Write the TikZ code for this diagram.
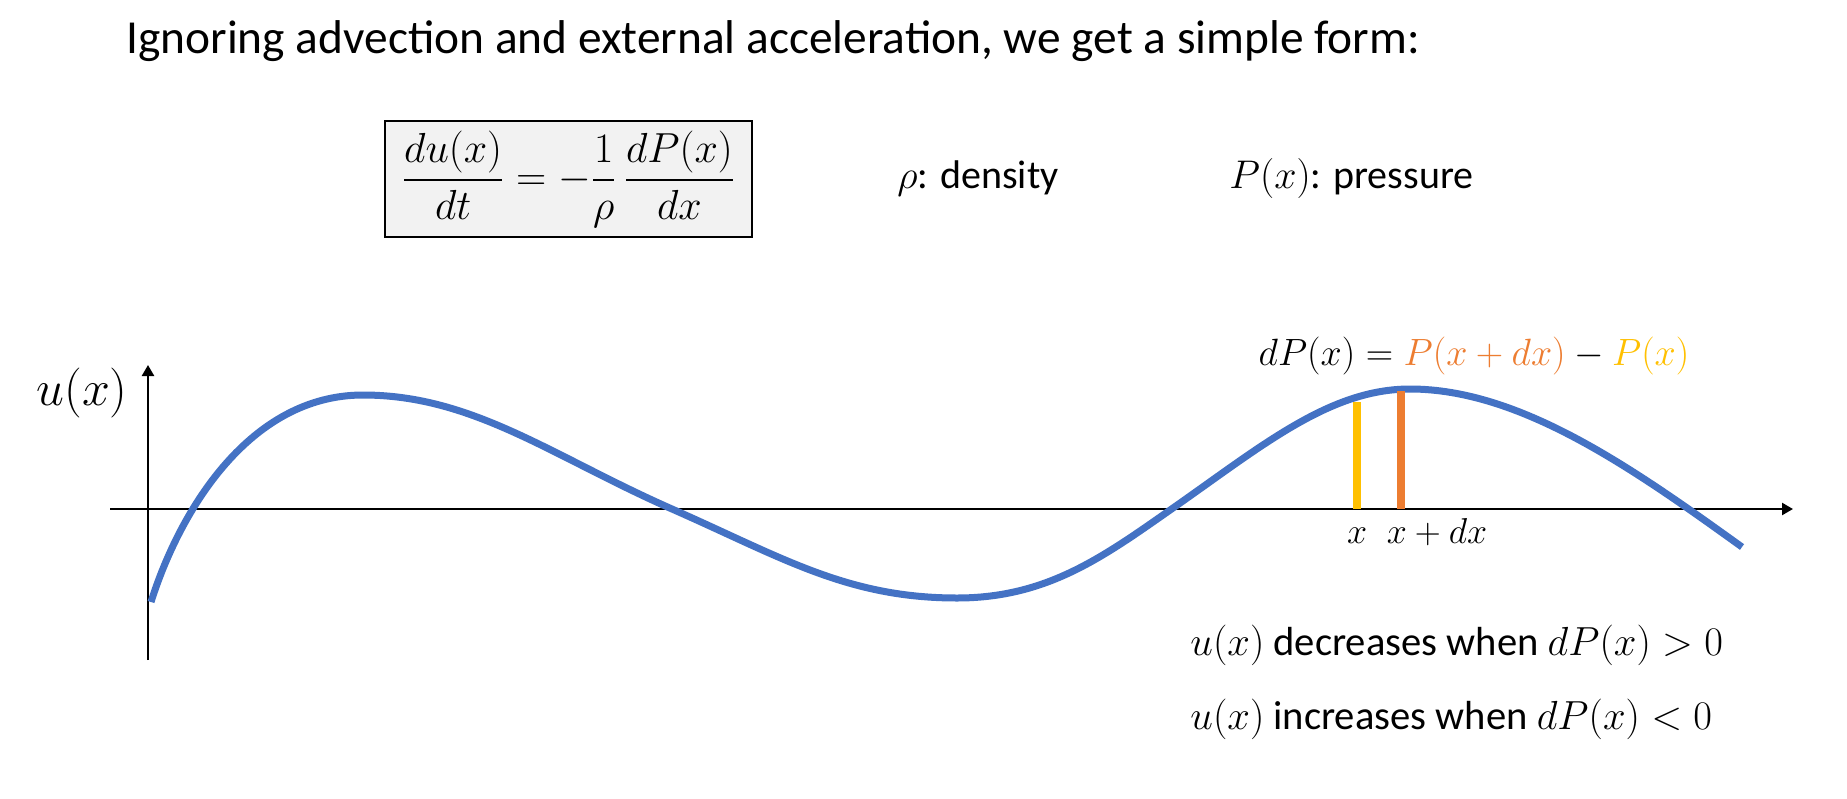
\RequirePackage{fix-cm}
\documentclass[tikz,border=0pt]{standalone}
\usepackage{amsmath}
\usepackage[no-math]{fontspec}
\setmainfont{Carlito}
\usepackage{xcolor}
\usepackage{tikz}
\usetikzlibrary{arrows.meta, positioning}
\definecolor{curveblue}{HTML}{4472C4}
\definecolor{dpyellow}{HTML}{FFC000}
\definecolor{dporange}{HTML}{ED7D31}
\definecolor{boxgray}{HTML}{F2F2F2}
\tikzstyle{txt} = [inner sep=0pt, font=\fontsize{20}{24}\selectfont]
\tikzstyle{eqbox} = [rectangle, draw=black, line width=0.7pt, fill=boxgray, minimum width=183.5pt, minimum height=58pt, inner sep=0pt, font=\fontsize{21}{25}\selectfont]
\tikzstyle{axis} = [draw, line width=1.2pt, -{Triangle[width=6pt,length=5.5pt]}]
\tikzstyle{wave} = [draw=curveblue, line width=3.5pt]
\tikzstyle{bar} = [draw, line width=3.7pt]

\begin{document}
\begin{tikzpicture}[x=0.5pt, y=-0.5pt]
    \useasboundingbox[fill=white] (0,0) rectangle (1847,798);
    % Nodes
    \node [txt, anchor=base west, font=\fontsize{23.7}{28}\selectfont] (title) at (126,53) {Ignoring advection and external acceleration, we get a simple form:};
    \node [eqbox] (eq) at (568.5,179) {$\dfrac{du(x)}{dt}=-\dfrac{1}{\rho}\,\dfrac{dP(x)}{dx}$};
    \node [txt, anchor=base west] (rho) at (897,188) {$\rho$: density};
    \node [txt, anchor=base west] (press) at (1229,188) {$P(x)$: pressure};
    \node [txt, anchor=base, font=\fontsize{25}{29}\selectfont] (ulab) at (82,405) {$u(x)$};
    \node [txt, anchor=base, font=\fontsize{19}{23}\selectfont] (dp) at (1474,365) {$dP(x)=\textcolor{dporange}{P(x+dx)}-\textcolor{dpyellow}{P(x)}$};
    \node [txt, anchor=base, font=\fontsize{18}{22}\selectfont] (xa) at (1357,543) {$x$};
    \node [txt, anchor=base, font=\fontsize{18}{22}\selectfont] (xb) at (1437,543) {$x+dx$};
    \node [txt, anchor=base west, font=\fontsize{20.3}{24}\selectfont] (dec) at (1190,655) {$u(x)$ decreases when $dP(x)>0$};
    \node [txt, anchor=base west, font=\fontsize{20.3}{24}\selectfont] (inc) at (1190,729) {$u(x)$ increases when $dP(x)<0$};

    % Axes
    \coordinate (xleft) at (110,509);
    \coordinate (xright) at (1793,509);
    \coordinate (ybottom) at (148,660);
    \coordinate (ytop) at (148,365);
    \path [axis] (xleft) -- (xright);
    \path [axis] (ybottom) -- (ytop);

    % Curve
    \coordinate (wstart) at (151,602);
    \coordinate (peakA) at (363,395);
    \coordinate (zeroB) at (672,509);
    \coordinate (trough) at (957,598);
    \coordinate (zeroC) at (1173,508);
    \coordinate (peakB) at (1410,389);
    \coordinate (wend) at (1742,547);
    \path [wave] (wstart) .. controls (180,510) and (250,395) .. (peakA)
        .. controls (473,395) and (552,456.2) .. (zeroB)
        .. controls (782,557.4) and (847,598) .. (trough)
        .. controls (1047,598) and (1103,557) .. (zeroC)
        .. controls (1263,445) and (1330,389) .. (peakB)
        .. controls (1520,389) and (1632,467.8) .. (wend);

    % Bars
    \coordinate (ya) at (1357,509);
    \coordinate (yatop) at (1357,402);
    \coordinate (yb) at (1401,509);
    \coordinate (ybtop) at (1401,391);
    \path [bar, dpyellow] (ya) -- (yatop);
    \path [bar, dporange] (yb) -- (ybtop);
\end{tikzpicture}
\end{document}
